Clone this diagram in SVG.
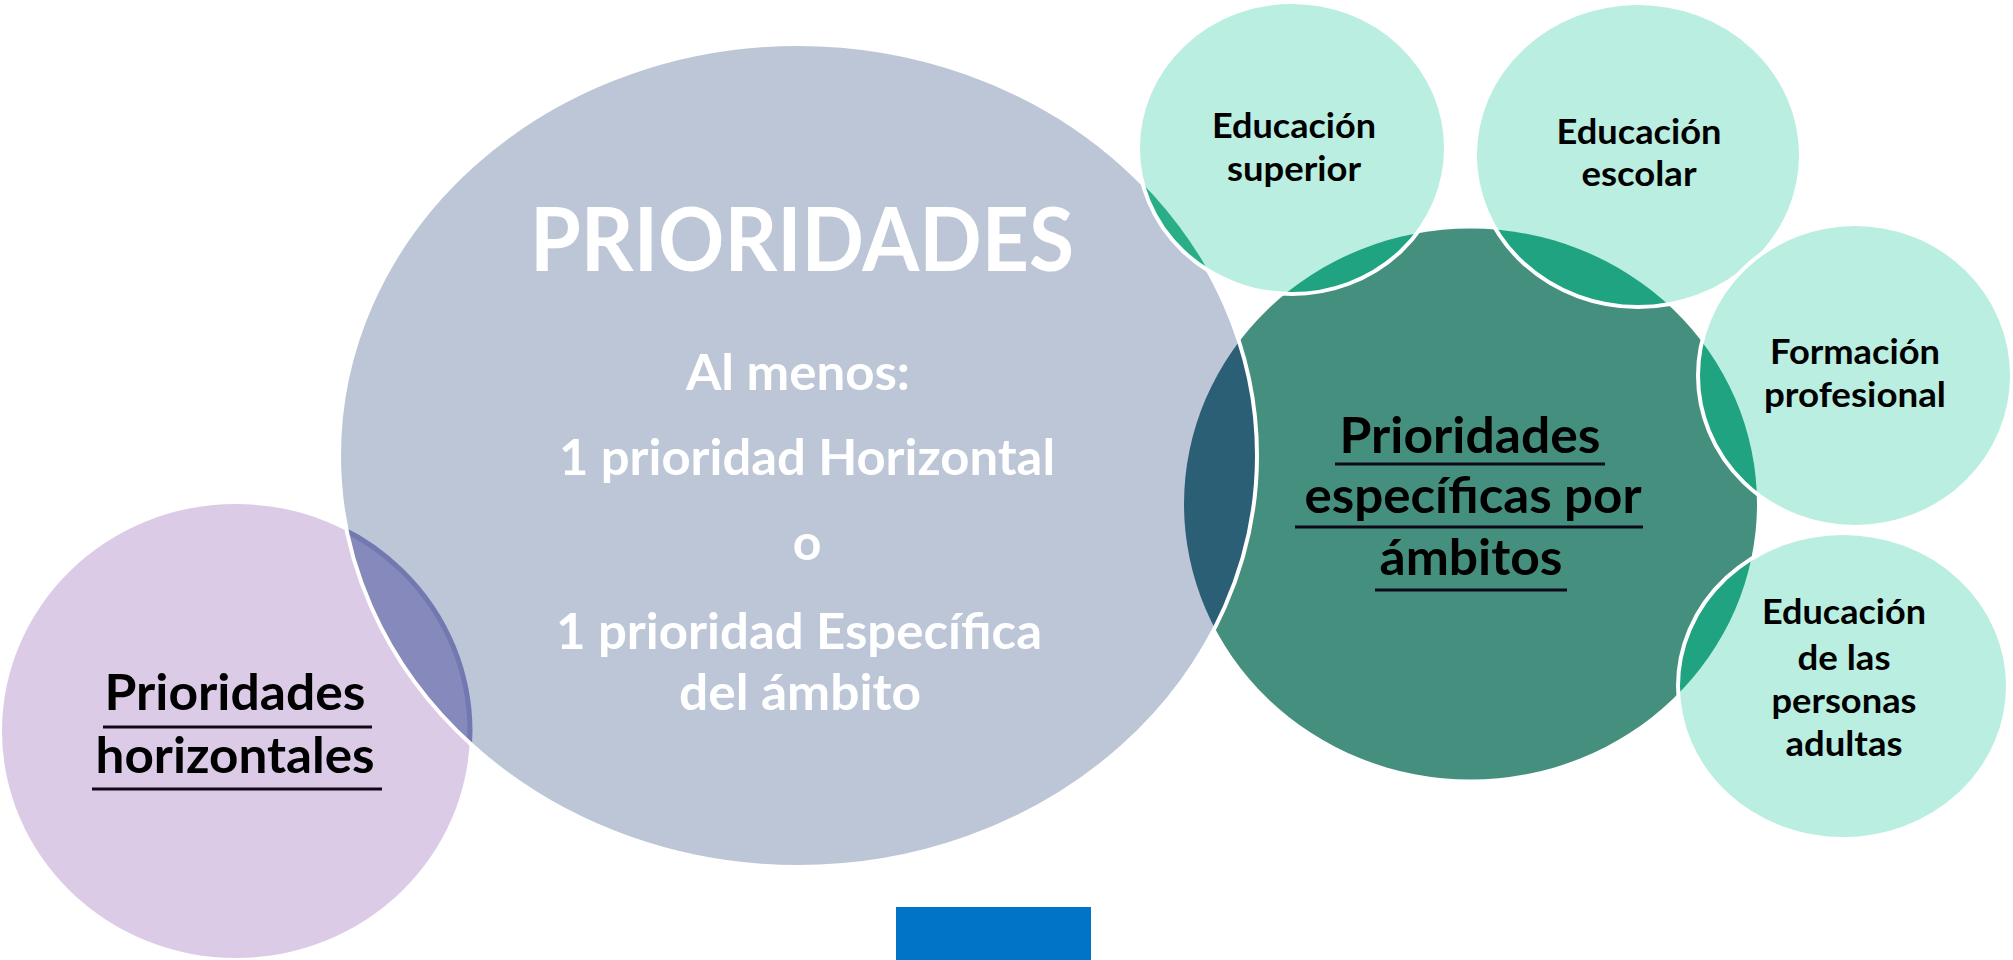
<svg xmlns="http://www.w3.org/2000/svg" width="2013" height="960" viewBox="0 0 2013 960">
  <style>
    .t { font-family: Lato, "Open Sans", "Liberation Sans", sans-serif; font-weight: 700; text-anchor: middle; }
    .w { fill: #ffffff; }
    .k { fill: #000000; }
    .big { font-size: 88px; }
    .mid { font-size: 50px; }
    .sm { font-size: 35px; }
    .ul { stroke: #100818; stroke-width: 3; }
    .edge { fill: none; stroke: #ffffff; stroke-width: 4; }
    .mint { fill: #b9eee0; }
    .mintx { fill: #1fa380; }
  </style>
  <defs>
    <ellipse id="eGray" cx="798" cy="455.5" rx="459" ry="411.5"/>
    <ellipse id="ePurple" cx="236" cy="731" rx="234" ry="227"/>
    <ellipse id="eGreen" cx="1470.5" cy="504" rx="286.5" ry="275.5"/>
    <ellipse id="eSup" cx="1292" cy="148" rx="154" ry="146"/>
    <ellipse id="eEsc" cx="1638" cy="155" rx="163" ry="152"/>
    <ellipse id="eFor" cx="1855" cy="375.5" rx="157" ry="151.5"/>
    <ellipse id="eAdu" cx="1843" cy="686" rx="165" ry="153"/>
    <clipPath id="cGray"><use href="#eGray"/></clipPath>
    <clipPath id="cGreen"><use href="#eGreen"/></clipPath>
  </defs>
  <rect x="0" y="0" width="2013" height="960" fill="#ffffff"/>

  <g id="horizontales">
    <use href="#ePurple" fill="#dbcbe7"/>
  </g>
  <g id="especificas">
    <use href="#eGreen" fill="#458f7f"/>
  </g>
  <g id="prioridades">
    <use href="#eGray" fill="#bdc6d7"/>
  </g>

  <g id="overlaps">
    <g clip-path="url(#cGray)">
      <use href="#ePurple" fill="#8589bb" stroke="#7378b0" stroke-width="5"/>
      <use href="#eGreen" fill="#2b5f76"/>
    </g>
    <use href="#eGray" class="edge"/>
  </g>

  <g id="superior">
    <use href="#eSup" class="mint"/>
    <use href="#eSup" class="mintx" clip-path="url(#cGreen)"/>
    <use href="#eSup" fill="#2aae88" clip-path="url(#cGray)"/>
    <use href="#eSup" class="edge"/>
    <text class="t k sm" x="1294" y="138" textLength="164" lengthAdjust="spacingAndGlyphs">Educación</text>
    <text class="t k sm" x="1294" y="181" textLength="134" lengthAdjust="spacingAndGlyphs">superior</text>
  </g>
  <g id="escolar">
    <use href="#eEsc" class="mint"/>
    <use href="#eEsc" class="mintx" clip-path="url(#cGreen)"/>
    <use href="#eEsc" class="edge"/>
    <text class="t k sm" x="1639" y="144" textLength="165" lengthAdjust="spacingAndGlyphs">Educación</text>
    <text class="t k sm" x="1639" y="186" textLength="115" lengthAdjust="spacingAndGlyphs">escolar</text>
  </g>
  <g id="profesional">
    <use href="#eFor" class="mint"/>
    <use href="#eFor" class="mintx" clip-path="url(#cGreen)"/>
    <use href="#eFor" class="edge"/>
    <text class="t k sm" x="1855" y="364" textLength="170" lengthAdjust="spacingAndGlyphs">Formación</text>
    <text class="t k sm" x="1855" y="407" textLength="182" lengthAdjust="spacingAndGlyphs">profesional</text>
  </g>
  <g id="adultas">
    <use href="#eAdu" class="mint"/>
    <use href="#eAdu" class="mintx" clip-path="url(#cGreen)"/>
    <use href="#eAdu" class="edge"/>
    <text class="t k sm" x="1844" y="624" textLength="164" lengthAdjust="spacingAndGlyphs">Educación</text>
    <text class="t k sm" x="1844" y="670" textLength="93" lengthAdjust="spacingAndGlyphs">de las</text>
    <text class="t k sm" x="1844" y="713" textLength="145" lengthAdjust="spacingAndGlyphs">personas</text>
    <text class="t k sm" x="1844" y="756" textLength="117" lengthAdjust="spacingAndGlyphs">adultas</text>
  </g>

  <g id="prioridades-text">
    <text class="t w big" x="802" y="271" textLength="544" lengthAdjust="spacingAndGlyphs">PRIORIDADES</text>
    <text class="t w mid" x="798" y="390" textLength="224" lengthAdjust="spacingAndGlyphs">Al menos:</text>
    <text class="t w mid" x="807" y="475" textLength="496" lengthAdjust="spacingAndGlyphs">1 prioridad Horizontal</text>
    <text class="t w mid" x="807" y="560">o</text>
    <text class="t w mid" x="799" y="649" textLength="486" lengthAdjust="spacingAndGlyphs">1 prioridad Específica</text>
    <text class="t w mid" x="800" y="710" textLength="242" lengthAdjust="spacingAndGlyphs">del ámbito</text>
  </g>

  <g id="horizontales-text">
    <text class="t k mid" x="235" y="710" textLength="261" lengthAdjust="spacingAndGlyphs">Prioridades</text>
    <line class="ul" x1="103" y1="727" x2="372" y2="727"/>
    <text class="t k mid" x="235" y="773" textLength="279" lengthAdjust="spacingAndGlyphs">horizontales</text>
    <line class="ul" x1="92" y1="789" x2="382" y2="789"/>
  </g>

  <g id="especificas-text">
    <text class="t k mid" x="1470" y="453" textLength="261" lengthAdjust="spacingAndGlyphs">Prioridades</text>
    <line class="ul" x1="1335" y1="464" x2="1605" y2="464"/>
    <text class="t k mid" x="1473" y="513" textLength="337" lengthAdjust="spacingAndGlyphs">específicas por</text>
    <line class="ul" x1="1295" y1="527" x2="1643" y2="527"/>
    <text class="t k mid" x="1471" y="575" textLength="183" lengthAdjust="spacingAndGlyphs">ámbitos</text>
    <line class="ul" x1="1375" y1="590" x2="1567" y2="590"/>
  </g>

  <g id="blue-bar">
    <rect x="896" y="907" width="195" height="53" fill="#0274c8"/>
  </g>
</svg>
